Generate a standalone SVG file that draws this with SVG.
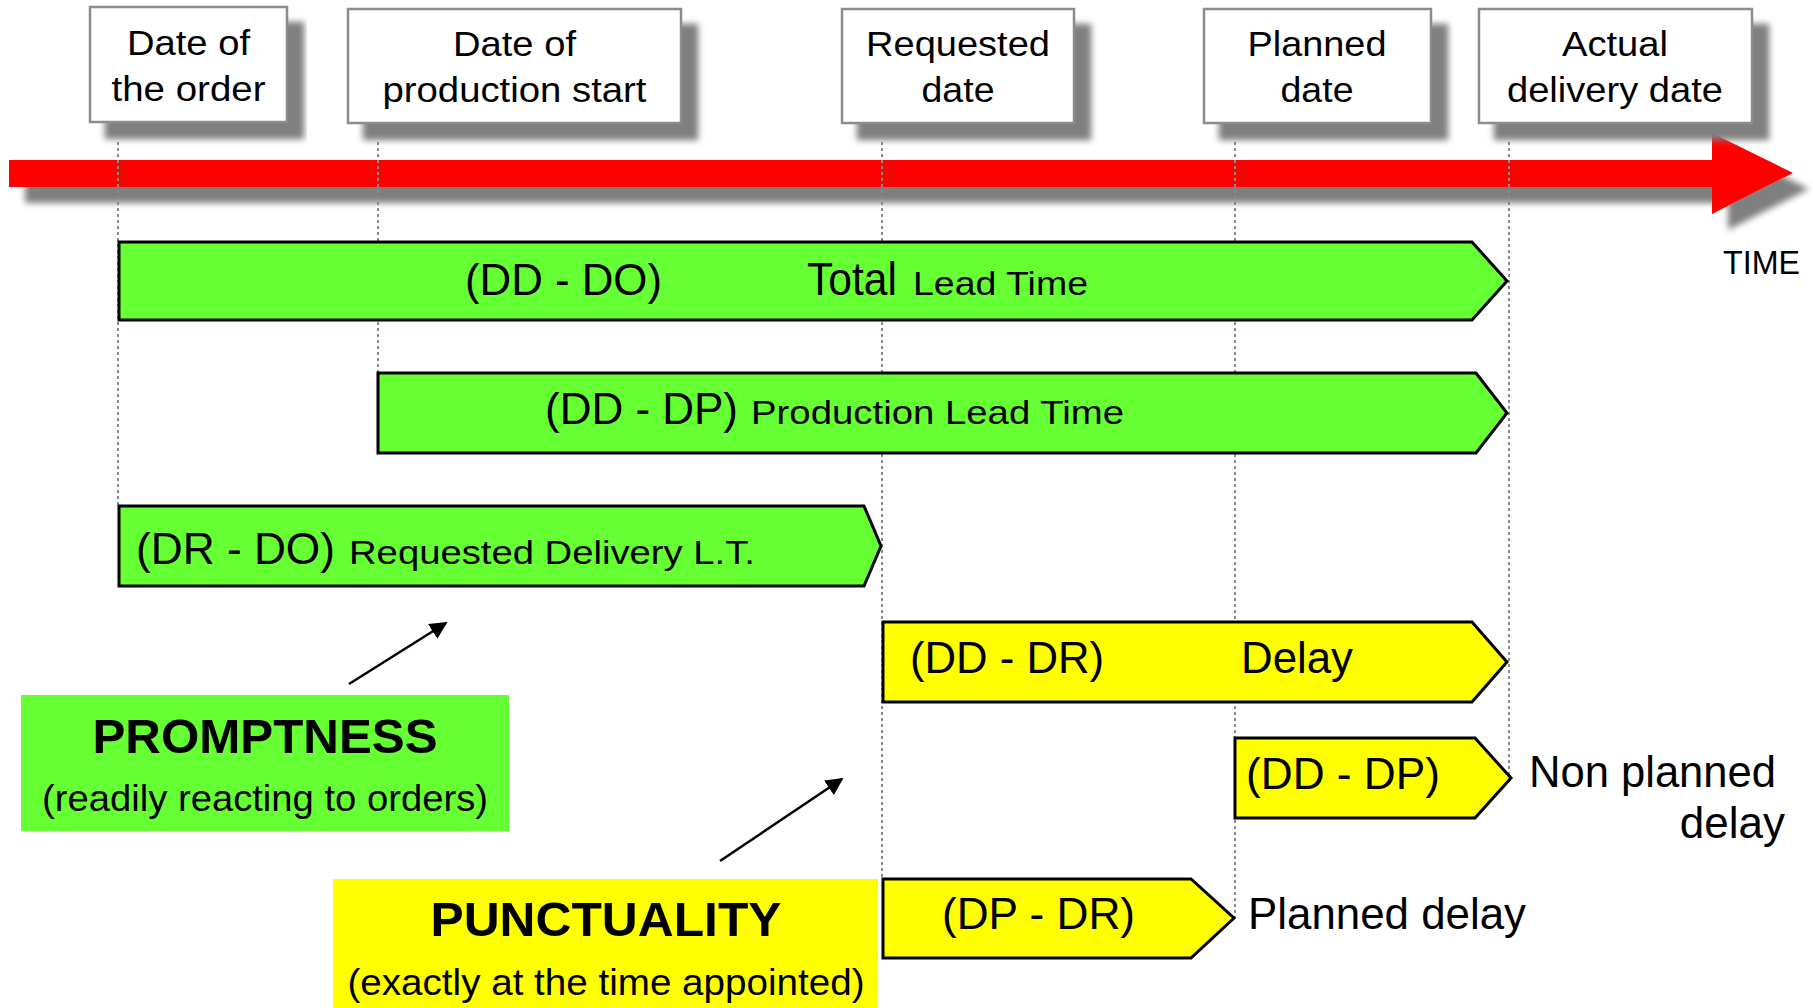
<svg xmlns="http://www.w3.org/2000/svg" width="1813" height="1008" viewBox="0 0 1813 1008">
<defs>
<style>
text{font-family:"Liberation Sans",Arial,Helvetica,sans-serif;fill:#000}
.bx{fill:#fff;stroke:#8c8c8c;stroke-width:2.5}
.bt{font-size:35px;text-anchor:middle}
.dot{stroke:#8a8a8a;stroke-width:2;stroke-dasharray:3 3;fill:none}
.g{fill:#66ff33;stroke:#000;stroke-width:3}
.y{fill:#ffff00;stroke:#000;stroke-width:3}
.big{font-size:44px}
.sm{font-size:33px}
.hd{font-size:48px;font-weight:bold;text-anchor:middle}
.sub{font-size:36px;text-anchor:middle}
.arr{stroke:#000;stroke-width:2.5;fill:none;marker-end:url(#ah)}
</style>
<filter id="sh" x="-5%" y="-20%" width="115%" height="170%">
<feDropShadow dx="16" dy="16" stdDeviation="3" flood-color="#7f7f7f" flood-opacity="1"/>
</filter>
<marker id="ah" viewBox="0 0 10 10" refX="9" refY="5" markerWidth="7" markerHeight="7" orient="auto" markerUnits="strokeWidth">
<path d="M0,0 L10,5 L0,10 z" fill="#000"/>
</marker>
</defs>
<rect width="1813" height="1008" fill="#fff"/>

<g id="time-axis">
<path d="M9,160 L1712,160 L1712,133 L1793,173 L1712,214 L1712,187 L9,187 z" fill="#ff0000" filter="url(#sh)"/>
<text x="1723" y="274" class="sm" textLength="77" lengthAdjust="spacingAndGlyphs">TIME</text>
</g>

<g id="box-order" filter="url(#sh)">
<rect class="bx" x="90" y="7" width="197" height="115"/>
</g>
<g id="box-order-text">
<text class="bt" x="188.5" y="55" textLength="123" lengthAdjust="spacingAndGlyphs">Date of</text>
<text class="bt" x="188.5" y="101" textLength="154" lengthAdjust="spacingAndGlyphs">the order</text>
</g>
<g id="box-production" filter="url(#sh)">
<rect class="bx" x="348" y="9" width="333" height="114"/>
</g>
<g id="box-production-text">
<text class="bt" x="514.5" y="56" textLength="123" lengthAdjust="spacingAndGlyphs">Date of</text>
<text class="bt" x="514.5" y="102" textLength="264" lengthAdjust="spacingAndGlyphs">production start</text>
</g>
<g id="box-requested" filter="url(#sh)">
<rect class="bx" x="842" y="9" width="232" height="114"/>
</g>
<g id="box-requested-text">
<text class="bt" x="958" y="56" textLength="184" lengthAdjust="spacingAndGlyphs">Requested</text>
<text class="bt" x="958" y="102" textLength="73" lengthAdjust="spacingAndGlyphs">date</text>
</g>
<g id="box-planned" filter="url(#sh)">
<rect class="bx" x="1204" y="9" width="227" height="114"/>
</g>
<g id="box-planned-text">
<text class="bt" x="1317" y="56" textLength="139" lengthAdjust="spacingAndGlyphs">Planned</text>
<text class="bt" x="1317" y="102" textLength="73" lengthAdjust="spacingAndGlyphs">date</text>
</g>
<g id="box-actual" filter="url(#sh)">
<rect class="bx" x="1479" y="9" width="273" height="114"/>
</g>
<g id="box-actual-text">
<text class="bt" x="1615" y="56" textLength="106" lengthAdjust="spacingAndGlyphs">Actual</text>
<text class="bt" x="1615" y="102" textLength="216" lengthAdjust="spacingAndGlyphs">delivery date</text>
</g>

<g id="connectors">
<line class="dot" x1="118" y1="142" x2="118" y2="506"/>
<line class="dot" x1="378" y1="142" x2="378" y2="373"/>
<line class="dot" x1="882" y1="142" x2="882" y2="879"/>
<line class="dot" x1="1235" y1="142" x2="1235" y2="918"/>
<line class="dot" x1="1509" y1="142" x2="1509" y2="778"/>
<line class="arr" x1="349" y1="684" x2="446" y2="623"/>
<line class="arr" x1="720" y1="861" x2="842" y2="779"/>
</g>

<g id="bar-total">
<path class="g" d="M119,242 L1472,242 L1507,281 L1472,320 L119,320 z"/>
<text class="big" x="465" y="295" textLength="197" lengthAdjust="spacingAndGlyphs">(DD - DO)</text>
<text x="807" y="295" style="font-size:46px" textLength="90" lengthAdjust="spacingAndGlyphs">Total</text>
<text class="sm" x="913" y="295" textLength="175" lengthAdjust="spacingAndGlyphs">Lead Time</text>
</g>

<g id="bar-production">
<path class="g" d="M378,373 L1476,373 L1507,413 L1476,453 L378,453 z"/>
<text class="big" x="545" y="424" textLength="193" lengthAdjust="spacingAndGlyphs">(DD - DP)</text>
<text class="sm" x="751" y="424" textLength="373" lengthAdjust="spacingAndGlyphs">Production Lead Time</text>
</g>

<g id="bar-requested">
<path class="g" d="M119,506 L864,506 L881,546 L864,586 L119,586 z"/>
<text class="big" x="136" y="564" textLength="199" lengthAdjust="spacingAndGlyphs">(DR - DO)</text>
<text class="sm" x="349" y="564" textLength="406" lengthAdjust="spacingAndGlyphs">Requested Delivery L.T.</text>
</g>

<g id="bar-delay">
<path class="y" d="M883,622 L1472,622 L1507,662 L1472,702 L883,702 z"/>
<text class="big" x="910" y="673" textLength="194" lengthAdjust="spacingAndGlyphs">(DD - DR)</text>
<text class="big" x="1241" y="673" textLength="112" lengthAdjust="spacingAndGlyphs">Delay</text>
</g>

<g id="bar-nonplanned">
<path class="y" d="M1235,738 L1475,738 L1511,778 L1475,818 L1235,818 z"/>
<text class="big" x="1246" y="789" textLength="194" lengthAdjust="spacingAndGlyphs">(DD - DP)</text>
<text class="big" x="1529" y="787" textLength="247" lengthAdjust="spacingAndGlyphs">Non planned</text>
<text class="big" x="1785" y="838" text-anchor="end">delay</text>
</g>

<g id="bar-planned">
<path class="y" d="M883,879 L1191,879 L1234,918 L1191,958 L883,958 z"/>
<text class="big" x="942" y="929" textLength="193" lengthAdjust="spacingAndGlyphs">(DP - DR)</text>
<text class="big" x="1248" y="929" textLength="278" lengthAdjust="spacingAndGlyphs">Planned delay</text>
</g>

<g id="promptness">
<rect x="21" y="695" width="488" height="136" fill="#66ff33"/>
<text class="hd" x="265" y="753" textLength="345" lengthAdjust="spacingAndGlyphs">PROMPTNESS</text>
<text class="sub" x="265" y="811" textLength="446" lengthAdjust="spacingAndGlyphs">(readily reacting to orders)</text>
</g>

<g id="punctuality">
<rect x="333" y="879" width="545" height="129" fill="#ffff00"/>
<text class="hd" x="606" y="936" textLength="351" lengthAdjust="spacingAndGlyphs">PUNCTUALITY</text>
<text class="sub" x="606" y="995" textLength="517" lengthAdjust="spacingAndGlyphs">(exactly at the time appointed)</text>
</g>
</svg>
